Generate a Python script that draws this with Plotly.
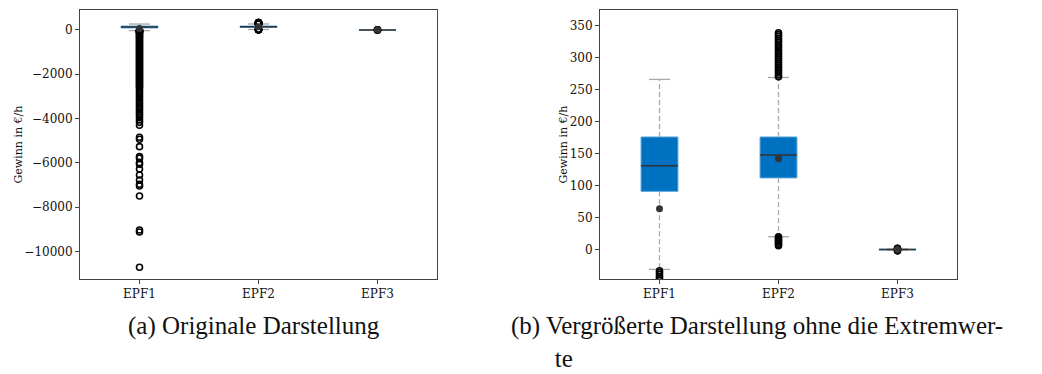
import plotly.graph_objects as go

W, H = 1042, 374

categories = ["EPF1", "EPF2", "EPF3"]
q1 = [91, 112, -0.6]
median = [131, 148, 0]
q3 = [176, 176, 0.6]
whisker_low = [-31, 20, -1.2]
whisker_high = [266, 269, 1.2]
means = [64, 142, 0]

outliers_epf1 = [
    -33, -36, -39, -42, -45, -48, -55, -70, -90, -120, -150, -190, -230, -270,
    -310, -360, -410, -460, -510, -560, -610, -660, -710, -760, -810, -860,
    -910, -960, -1010, -1060, -1110, -1160, -1210, -1260, -1310, -1360,
    -1410, -1460, -1510, -1560, -1610, -1660, -1710, -1760, -1810, -1860,
    -1910, -1960, -2010, -2060, -2110, -2160, -2210, -2260, -2310, -2360,
    -2410, -2460, -2510, -2560, -2620, -2700, -2780, -2860,
    -2950, -3030, -3110, -3200, -3280, -3360, -3450, -3530, -3610, -3700,
    -3780, -3860, -3950, -4060, -4170, -4300,
    -4845, -4935, -5268, -5719, -5793, -5990, -6065, -6275, -6546, -6772,
    -6967, -7042, -7494, -9029, -9120, -10713,
]
outliers_epf2 = [
    270, 273, 276, 279, 282, 285, 288, 291, 294, 297, 300, 303, 306, 309,
    312, 315, 318, 321, 324, 327, 330, 333, 336, 339,
    20, 18, 16, 14, 12, 10, 8, 6,
]
outliers_epf3 = [-2.0, -1.6, 1.6, 2.0]
outliers = [outliers_epf1, outliers_epf2, outliers_epf3]

y_ranges = [[-11240, 900], [-46, 374.5]]
y_dticks = [2000, 50]

caption_a = "(a) Originale Darstellung"
caption_b = "(b) Vergrößerte Darstellung ohne die Extremwer-<br>" + "\u00a0" * 7 + "te"

BOX_HALF = 0.155
CAP_HALF = 0.088
BOX_FILL = "#0070C0"
BOX_EDGE = "#5AA6DE"
WHISKER = "#A8A8A8"
DARK = "#333333"
AXIS = "#444444"
TICKFONT = dict(family="DejaVu Serif, serif", size=12, color="#111111")
CAPFONT = dict(family="Liberation Serif", size=25, color="#111111")

fig = go.Figure()

x_domains = [[80 / W, 437 / W], [600 / W, 957 / W]]
y_domain = [1 - 279 / H, 1 - 10 / H]

for p in range(2):
    xa = "x" if p == 0 else "x2"
    ya = "y" if p == 0 else "y2"
    pos = [i + 1 for i in range(len(categories))]

    # whiskers (dashed)
    wx, wy = [], []
    for i, xpos in enumerate(pos):
        wx += [xpos, xpos, None, xpos, xpos, None]
        wy += [q1[i], whisker_low[i], None, q3[i], whisker_high[i], None]
    fig.add_trace(go.Scatter(x=wx, y=wy, mode="lines", xaxis=xa, yaxis=ya,
                             line=dict(color=WHISKER, width=1.3, dash="5px,3px"),
                             hoverinfo="skip", showlegend=False))
    # caps
    cx, cy = [], []
    for i, xpos in enumerate(pos):
        cx += [xpos - CAP_HALF, xpos + CAP_HALF, None, xpos - CAP_HALF, xpos + CAP_HALF, None]
        cy += [whisker_low[i], whisker_low[i], None, whisker_high[i], whisker_high[i], None]
    fig.add_trace(go.Scatter(x=cx, y=cy, mode="lines", xaxis=xa, yaxis=ya,
                             line=dict(color=WHISKER, width=1.3),
                             hoverinfo="skip", showlegend=False))
    # box body
    fig.add_trace(go.Bar(x=pos, y=[q3[i] - q1[i] for i in range(len(pos))], base=q1,
                         width=2 * BOX_HALF, xaxis=xa, yaxis=ya,
                         marker=dict(color=BOX_FILL, line=dict(color=BOX_EDGE, width=1)),
                         hoverinfo="skip", showlegend=False))
    # medians
    mx, my = [], []
    for i, xpos in enumerate(pos):
        mx += [xpos - BOX_HALF, xpos + BOX_HALF, None]
        my += [median[i], median[i], None]
    fig.add_trace(go.Scatter(x=mx, y=my, mode="lines", xaxis=xa, yaxis=ya,
                             line=dict(color=DARK, width=1.5),
                             hoverinfo="skip", showlegend=False))
    # outliers
    ox, oy = [], []
    for i, xpos in enumerate(pos):
        ox += [xpos] * len(outliers[i])
        oy += outliers[i]
    fig.add_trace(go.Scatter(x=ox, y=oy, mode="markers", xaxis=xa, yaxis=ya,
                             marker=dict(symbol="circle-open", size=6, color="black",
                                         line=dict(width=1.6, color="black")),
                             cliponaxis=True, hoverinfo="skip", showlegend=False))
    # means
    fig.add_trace(go.Scatter(x=pos, y=means, mode="markers", xaxis=xa, yaxis=ya,
                             marker=dict(symbol="circle", size=7, color=DARK),
                             cliponaxis=True, hoverinfo="skip", showlegend=False))

for p in range(2):
    suffix = "" if p == 0 else "2"
    fig.update_layout(**{
        "xaxis" + suffix: dict(
            domain=x_domains[p], range=[0.5, 3.5], anchor="y" + suffix,
            tickmode="array", tickvals=[1, 2, 3], ticktext=categories,
            showgrid=False, zeroline=False, showline=True, mirror=True,
            linecolor=AXIS, linewidth=1, ticks="outside", ticklen=4,
            tickcolor=AXIS, tickfont=TICKFONT, fixedrange=True),
        "yaxis" + suffix: dict(
            domain=y_domain, range=y_ranges[p], anchor="x" + suffix,
            dtick=y_dticks[p], tick0=0, tickformat="d",
            showgrid=False, zeroline=False, showline=True, mirror=True,
            linecolor=AXIS, linewidth=1, ticks="outside", ticklen=4,
            tickcolor=AXIS, tickfont=TICKFONT, fixedrange=True),
    })

annotations = [
    dict(text="Gewinn in €/h", x=18 / W, y=1 - 144.5 / H, textangle=-90,
         font=dict(family="DejaVu Serif, serif", size=11, color="#111111")),
    dict(text="Gewinn in €/h", x=563 / W, y=1 - 144.5 / H, textangle=-90,
         font=dict(family="DejaVu Serif, serif", size=11, color="#111111")),
    dict(text=caption_a, x=254 / W, y=1 - 326 / H, font=CAPFONT),
    dict(text=caption_b, x=509 / W, y=0, xanchor="left", yanchor="bottom",
         align="left", font=CAPFONT),
]
for a in annotations:
    a.update(xref="paper", yref="paper", showarrow=False)
    a.setdefault("xanchor", "center")
    a.setdefault("yanchor", "middle")

fig.update_layout(
    width=W, height=H, margin=dict(l=0, r=0, t=0, b=0),
    paper_bgcolor="white", plot_bgcolor="white",
    barmode="overlay", annotations=annotations, showlegend=False,
)

fig.write_html("out.html", config={"displayModeBar": False})
